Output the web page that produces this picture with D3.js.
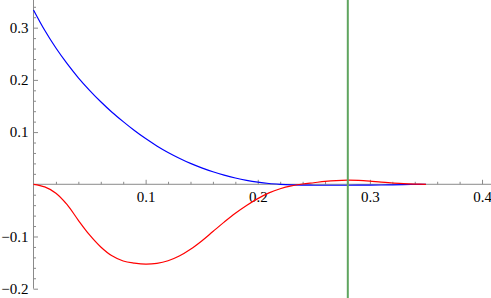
<!DOCTYPE html>
<html>
<head>
<meta charset="utf-8">
<script src="https://cdn.jsdelivr.net/npm/d3@7"></script>
<style>
  body { margin: 0; background: #fff; }
</style>
</head>
<body>
<div class="canvas"></div>
<script>
const dimensions = { width: 491, height: 298 };

// sample positions along x (both curves share them)
const xs = [0, 0.01, 0.02, 0.03, 0.04, 0.05, 0.06, 0.07, 0.08, 0.09, 0.1, 0.11, 0.12, 0.13, 0.14, 0.15, 0.16, 0.17,
  0.18, 0.19, 0.2, 0.21, 0.22, 0.23, 0.24, 0.25, 0.26, 0.27, 0.28, 0.29, 0.3, 0.31, 0.32, 0.33, 0.34, 0.35];

// blue curve
const blueValues = [0.334, 0.295, 0.261, 0.231, 0.204, 0.18, 0.158, 0.138, 0.12, 0.103, 0.0875, 0.0735, 0.061, 0.05,
  0.04, 0.0315, 0.024, 0.0175, 0.012, 0.0075, 0.004, 0.0015, 0, -0.001, -0.0015, -0.0018, -0.0018, -0.0018, -0.0018,
  -0.0017, -0.0016, -0.0014, -0.001, -0.0006, -0.0002, 0];

// red curve
const redValues = [0, -0.005, -0.017, -0.039, -0.069, -0.097, -0.12, -0.137, -0.147, -0.151, -0.153, -0.1515, -0.1465,
  -0.1375, -0.1245, -0.1085, -0.0905, -0.0725, -0.0555, -0.0405, -0.0275, -0.0165, -0.0085, -0.003, 0.0005, 0.003,
  0.0055, 0.0072, 0.008, 0.0075, 0.006, 0.004, 0.0025, 0.0012, 0.0004, 0];

const markerX = 0.2803; // vertical green line

const xMajor = [0.1, 0.2, 0.3, 0.4];
const xMinor = [0.02, 0.04, 0.06, 0.08, 0.12, 0.14, 0.16, 0.18, 0.22, 0.24, 0.26, 0.28, 0.32, 0.34, 0.36, 0.38];
const yMajor = [-0.2, -0.1, 0.1, 0.2, 0.3];
const yMinor = [-0.18, -0.16, -0.14, -0.12, -0.08, -0.06, -0.04, -0.02, 0.02, 0.04, 0.06, 0.08,
  0.12, 0.14, 0.16, 0.18, 0.22, 0.24, 0.26, 0.28, 0.32, 0.34];

const svg = d3
  .select('.canvas')
  .append('svg')
  .attr('width', dimensions.width)
  .attr('height', dimensions.height);

const x = d3.scaleLinear().domain([0, 0.408]).range([33.5, 491]);
const y = d3.scaleLinear().domain([-0.2, 0.353]).range([288.7, 0]);

const fmt = (d) => (d < 0 ? '\u22120' : '0') + d3.format('.1f')(Math.abs(d)).slice(1);

// x axis (ticks point up, labels below)
const xAxisG = svg.append('g').attr('transform', `translate(0, ${y(0)})`);
xAxisG.call(d3.axisBottom(x).tickValues(xMinor).tickSize(-2.5).tickFormat(''));
xAxisG.append('g').call(d3.axisBottom(x).tickValues(xMajor).tickSize(-4.5).tickPadding(7).tickFormat(fmt));
xAxisG.select('path').attr('d', `M${x.range()[0]},0H${x.range()[1]}`);
xAxisG.selectAll('g g path').remove();

// y axis (ticks point right, labels left)
const yAxisG = svg.append('g').attr('transform', `translate(${x(0)}, 0)`);
yAxisG.call(d3.axisLeft(y).tickValues(yMinor).tickSize(-2.5).tickFormat(''));
yAxisG.append('g').call(d3.axisLeft(y).tickValues(yMajor).tickSize(-4.5).tickPadding(5).tickFormat(fmt));
yAxisG.select('path').attr('d', `M0,${y.range()[1]}V${y.range()[0]}`);
yAxisG.selectAll('g g path').remove();

// mathematica-ish look
svg.selectAll('path.domain, .tick line').attr('stroke', '#8a8a8a');
svg
  .selectAll('g')
  .attr('font-family', '"Liberation Serif", "DejaVu Serif", serif')
  .attr('font-size', 15);
svg.selectAll('.tick text').attr('fill', '#000');

const line = d3
  .line()
  .x((d) => x(d[0]))
  .y((d) => y(d[1]))
  .curve(d3.curveCatmullRom.alpha(0.5));

svg
  .append('path')
  .datum(xs.map((v, i) => [v, blueValues[i]]))
  .attr('fill', 'none')
  .attr('stroke', '#0000ff')
  .attr('stroke-width', 1.2)
  .attr('d', line);

svg
  .append('path')
  .datum(xs.map((v, i) => [v, redValues[i]]))
  .attr('fill', 'none')
  .attr('stroke', '#ff0000')
  .attr('stroke-width', 1.2)
  .attr('d', line);

svg
  .append('line')
  .attr('x1', x(markerX))
  .attr('x2', x(markerX))
  .attr('y1', 0)
  .attr('y2', dimensions.height)
  .attr('stroke', '#5fa55f')
  .attr('stroke-width', 2);
</script>
</body>
</html>
